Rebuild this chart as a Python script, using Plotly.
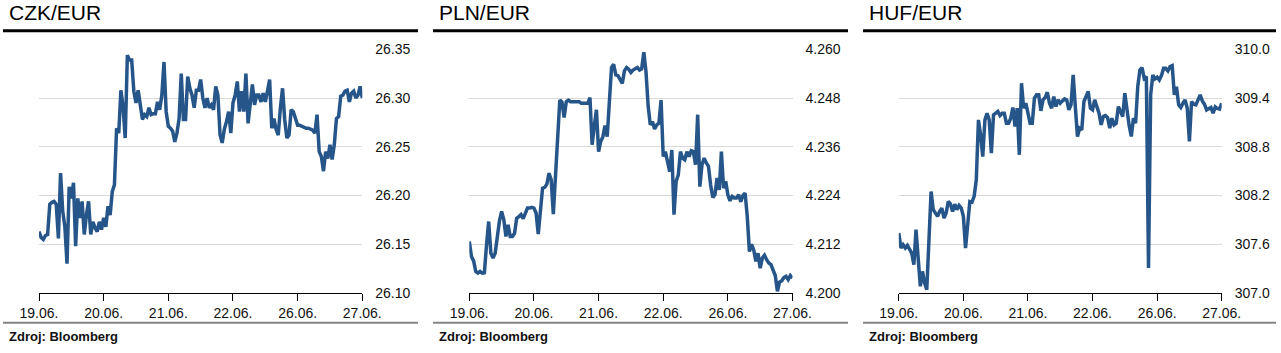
import numpy as np
import plotly.graph_objects as go

W, H = 1281, 353

# ---------------- data ----------------
day_labels = ["19.06.", "20.06.", "21.06.", "22.06.", "26.06.", "27.06."]

czk_eur = [
    26.163, 26.157, 26.155, 26.159, 26.160, 26.191, 26.193, 26.194, 26.191, 26.156,
    26.223, 26.184, 26.168, 26.130, 26.209, 26.197, 26.213, 26.148, 26.197, 26.177,
    26.194, 26.160, 26.180, 26.194, 26.160, 26.173, 26.167, 26.163, 26.173, 26.165,
    26.177, 26.168, 26.189, 26.180, 26.204, 26.211, 26.269, 26.264, 26.308, 26.291,
    26.259, 26.344, 26.339, 26.339, 26.307, 26.295, 26.308, 26.293, 26.278, 26.283,
    26.281, 26.290, 26.283, 26.284, 26.284, 26.296, 26.288, 26.303, 26.337, 26.286,
    26.271, 26.269, 26.266, 26.255, 26.264, 26.279, 26.325, 26.278, 26.278, 26.322,
    26.310, 26.303, 26.290, 26.308, 26.308, 26.319, 26.300, 26.290, 26.300, 26.290,
    26.293, 26.288, 26.312, 26.303, 26.262, 26.254, 26.268, 26.276, 26.286, 26.264,
    26.295, 26.303, 26.317, 26.286, 26.307, 26.286, 26.325, 26.274, 26.296, 26.314,
    26.293, 26.303, 26.303, 26.296, 26.305, 26.296, 26.307, 26.319, 26.269, 26.279,
    26.268, 26.262, 26.290, 26.310, 26.278, 26.259, 26.262, 26.288, 26.286, 26.278,
    26.272, 26.272, 26.271, 26.270, 26.269, 26.269, 26.268, 26.267, 26.264, 26.283,
    26.245, 26.240, 26.225, 26.245, 26.238, 26.252, 26.237, 26.252, 26.279, 26.281,
    26.302, 26.303, 26.307, 26.308, 26.296, 26.305, 26.307, 26.300, 26.303, 26.312,
    26.300,
]

pln_eur = [
    4.2127, 4.2090, 4.2079, 4.2053, 4.2049, 4.2053, 4.2049, 4.2050, 4.2119, 4.2176,
    4.2098, 4.2086, 4.2098, 4.2147, 4.2178, 4.2201, 4.2181, 4.2139, 4.2168, 4.2139,
    4.2139, 4.2147, 4.2184, 4.2188, 4.2193, 4.2183, 4.2197, 4.2209, 4.2209, 4.2211,
    4.2209, 4.2197, 4.2145, 4.2193, 4.2258, 4.2260, 4.2268, 4.2295, 4.2279, 4.2194,
    4.2299, 4.2393, 4.2475, 4.2470, 4.2432, 4.2471, 4.2475, 4.2471, 4.2471, 4.2471,
    4.2470, 4.2471, 4.2467, 4.2467, 4.2467, 4.2467, 4.2481, 4.2365, 4.2410, 4.2451,
    4.2348, 4.2373, 4.2385, 4.2412, 4.2385, 4.2471, 4.2555, 4.2563, 4.2537, 4.2535,
    4.2525, 4.2516, 4.2547, 4.2555, 4.2551, 4.2543, 4.2549, 4.2553, 4.2555, 4.2549,
    4.2552, 4.2593, 4.2545, 4.2461, 4.2414, 4.2422, 4.2404, 4.2414, 4.2418, 4.2475,
    4.2336, 4.2348, 4.2324, 4.2299, 4.2352, 4.2193, 4.2275, 4.2291, 4.2348, 4.2332,
    4.2328, 4.2348, 4.2336, 4.2350, 4.2348, 4.2316, 4.2439, 4.2262, 4.2316, 4.2332,
    4.2320, 4.2312, 4.2266, 4.2235, 4.2242, 4.2283, 4.2254, 4.2348, 4.2258, 4.2275,
    4.2242, 4.2227, 4.2238, 4.2234, 4.2234, 4.2242, 4.2225, 4.2240, 4.2246, 4.2189,
    4.2102, 4.2120, 4.2106, 4.2078, 4.2098, 4.2061, 4.2086, 4.2093, 4.2082, 4.2074,
    4.2070, 4.2055, 4.2043, 4.2004, 4.2027, 4.2030, 4.2038, 4.2041, 4.2033, 4.2043,
    4.2037,
]

huf_eur = [
    307.738, 307.553, 307.594, 307.553, 307.586, 307.533, 307.492, 307.348, 307.779, 307.430,
    307.082, 307.266, 307.123, 307.041, 307.676, 308.250, 308.025, 307.984, 307.943, 308.004,
    308.045, 307.922, 307.984, 308.127, 308.094, 308.004, 308.094, 308.025, 308.078, 308.045,
    307.943, 307.553, 307.902, 308.127, 308.119, 308.189, 308.393, 309.131, 308.947, 308.680,
    309.131, 309.213, 309.131, 308.721, 309.193, 309.213, 309.234, 309.184, 309.213, 309.213,
    309.090, 309.090, 309.152, 309.283, 309.049, 309.275, 308.701, 309.582, 309.275, 309.336,
    309.213, 309.090, 309.090, 309.398, 309.439, 309.439, 309.242, 309.377, 309.406, 309.471,
    309.336, 309.275, 309.418, 309.295, 309.377, 309.336, 309.365, 309.390, 309.377, 309.254,
    309.316, 309.684, 309.295, 308.926, 309.029, 309.008, 309.357, 309.418, 309.480, 309.275,
    309.254, 309.377, 309.303, 309.213, 309.070, 309.172, 309.184, 309.160, 309.029, 309.152,
    309.070, 309.090, 309.295, 309.234, 309.172, 309.459, 309.242, 309.062, 308.926, 309.152,
    309.090, 309.541, 309.746, 309.775, 309.643, 309.664, 307.307, 309.439, 309.684, 309.635,
    309.656, 309.623, 309.676, 309.766, 309.766, 309.734, 309.787, 309.799, 309.439, 309.541,
    309.316, 309.283, 309.336, 309.377, 309.275, 308.865, 309.357, 309.324, 309.316, 309.377,
    309.439, 309.365, 309.324, 309.254, 309.263, 309.283, 309.213, 309.291, 309.271, 309.263,
    309.336,
]

titles = ["CZK/EUR", "PLN/EUR", "HUF/EUR"]
source_text = "Zdroj: Bloomberg"

czk_ticks = [26.10, 26.15, 26.20, 26.25, 26.30, 26.35]
pln_ticks = [4.200, 4.212, 4.224, 4.236, 4.248, 4.260]
huf_ticks = [307.0, 307.6, 308.2, 308.8, 309.4, 310.0]

# ---------------- layout geometry (pixels) ----------------
FONT = "Liberation Sans, Arial, Helvetica, sans-serif"
LINE_COLOR = "#265589"

panels = [
    dict(vals=czk_eur, ticks=czk_ticks, fmt="{:.2f}", x0=39.0, x1=362.3, left=3, right=418),
    dict(vals=pln_eur, ticks=pln_ticks, fmt="{:.3f}", x0=469.3, x1=792.5, left=433, right=848),
    dict(vals=huf_eur, ticks=huf_ticks, fmt="{:.1f}", x0=898.8, x1=1221.7, left=863, right=1276),
]

def px(x):
    return x / W

def py(y):
    return 1 - y / H

plot_top, plot_bottom = 49.3, 293.0

fig = go.Figure()
shapes = []
annotations = []

for k, (p, title) in enumerate(zip(panels, titles)):
    n = k + 1
    xa = "x" if n == 1 else f"x{n}"
    ya = "y" if n == 1 else f"y{n}"
    t = np.linspace(0, len(day_labels) - 1, len(p["vals"]))
    fig.add_trace(go.Scatter(
        x=t, y=p["vals"], xaxis=xa, yaxis=ya, mode="lines",
        line=dict(color=LINE_COLOR, width=3.5), hoverinfo="skip", showlegend=False,
    ))
    xkey = "xaxis" if n == 1 else f"xaxis{n}"
    ykey = "yaxis" if n == 1 else f"yaxis{n}"
    fig.layout[xkey] = dict(
        domain=[px(p["x0"]), px(p["x1"])], anchor=ya, automargin=False,
        range=[0, len(day_labels) - 1],
        tickvals=list(range(len(day_labels))), ticktext=day_labels,
        showgrid=False, zeroline=False, showline=True, linecolor="#000000", linewidth=1,
        ticks="outside", ticklen=7, tickwidth=1, tickcolor="#000000",
        tickfont=dict(family=FONT, size=14, color="#111111"), fixedrange=True,
    )
    fig.layout[ykey] = dict(
        domain=[py(plot_bottom), py(plot_top)], anchor=xa, side="right", automargin=False,
        range=[p["ticks"][0], p["ticks"][-1]],
        tickvals=p["ticks"], ticktext=[p["fmt"].format(v) for v in p["ticks"]],
        showgrid=True, gridcolor="#d9d9d9", gridwidth=1, zeroline=False, showline=False,
        ticks="", ticklabelstandoff=12,
        tickfont=dict(family=FONT, size=14, color="#111111"), fixedrange=True,
    )
    # title rule
    shapes.append(dict(type="line", xref="paper", yref="paper",
                       x0=px(p["left"]), x1=px(p["right"]), y0=py(30.8), y1=py(30.8),
                       line=dict(color="#000000", width=3)))
    # bottom rule
    shapes.append(dict(type="line", xref="paper", yref="paper",
                       x0=px(p["left"]), x1=px(p["right"]), y0=py(322.7), y1=py(322.7),
                       line=dict(color="#858585", width=2)))
    annotations.append(dict(text=title, xref="paper", yref="paper",
                            x=px(p["left"] + 4), y=py(13), xanchor="left", yanchor="middle",
                            showarrow=False, font=dict(family=FONT, size=21, color="#000000")))
    annotations.append(dict(text="<b>" + source_text + "</b>", xref="paper", yref="paper",
                            x=px(p["left"] + 4), y=py(336.5), xanchor="left", yanchor="middle",
                            showarrow=False, font=dict(family=FONT, size=13, color="#111111")))

fig.update_layout(
    width=W, height=H, autosize=False,
    margin=dict(l=0, r=0, t=0, b=0, pad=0, autoexpand=False),
    paper_bgcolor="#ffffff", plot_bgcolor="#ffffff",
    shapes=shapes, annotations=annotations, showlegend=False,
)

fig.write_html("out.html", config={"displayModeBar": False, "staticPlot": True})
